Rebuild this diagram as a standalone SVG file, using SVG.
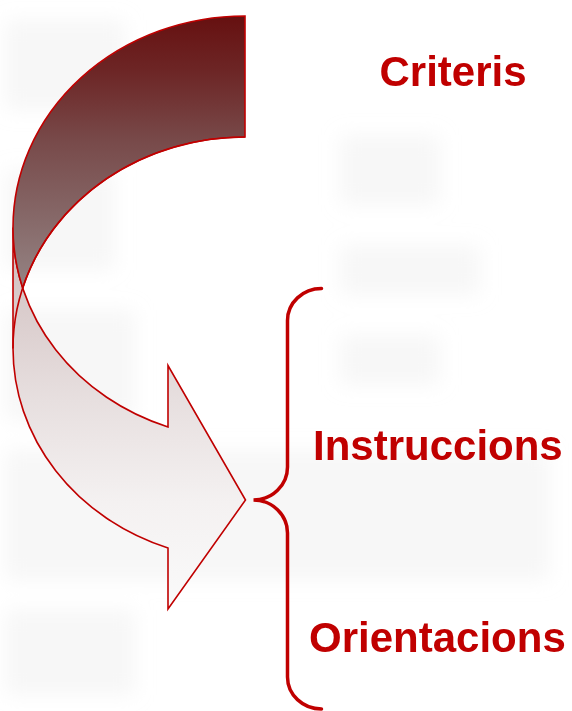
<svg xmlns="http://www.w3.org/2000/svg" width="572" height="711" viewBox="0 0 572 711">
<defs>
<linearGradient id="gDark" gradientUnits="userSpaceOnUse" x1="0" y1="16" x2="0" y2="295">
<stop offset="0" stop-color="#661010"/>
<stop offset="0.2" stop-color="#6d2626"/>
<stop offset="0.45" stop-color="#784a4a"/>
<stop offset="0.72" stop-color="#866868"/>
<stop offset="1" stop-color="#968686"/>
</linearGradient>
<linearGradient id="gLight" gradientUnits="userSpaceOnUse" x1="0" y1="227" x2="0" y2="610">
<stop offset="0" stop-color="#cdbaba"/>
<stop offset="0.2" stop-color="#d9cbcb"/>
<stop offset="0.45" stop-color="#e7dfdf"/>
<stop offset="0.72" stop-color="#f4f1f1"/>
<stop offset="1" stop-color="#fafafa"/>
</linearGradient>
<filter id="blur" x="-20%" y="-20%" width="140%" height="140%">
<feGaussianBlur stdDeviation="10"/>
</filter>
<style>
.ol{stroke:#c00000;stroke-width:1.6;stroke-linejoin:miter}
.line{fill:none}
.light{fill:url(#gLight)}
.dark{fill:url(#gDark)}
.brace{fill:none;stroke:#c00000;stroke-width:3.5;stroke-linecap:round}
.lbl{font-family:"Liberation Sans",Arial,sans-serif;font-weight:bold;font-size:42px;fill:#c00000}
.bg{fill:#e6e6e6;opacity:0.3}
</style>
</defs>
<rect width="572" height="711" fill="#ffffff"/>
<g id="background" filter="url(#blur)">
<rect class="bg" x="5" y="20" width="120" height="90"/>
<rect class="bg" x="5" y="170" width="110" height="100"/>
<rect class="bg" x="5" y="310" width="130" height="110"/>
<rect class="bg" x="5" y="450" width="545" height="130"/>
<rect class="bg" x="5" y="610" width="130" height="85"/>
<rect class="bg" x="340" y="135" width="100" height="70"/>
<rect class="bg" x="340" y="245" width="140" height="50"/>
<rect class="bg" x="340" y="335" width="100" height="50"/>
</g>
<g id="curved-arrow">
<path class="ol light" d="M13,227.5 A232,211.5 0 0 0 168,427 L168,365.5 L245.5,500 L168,609 L168,548 A232,211.5 0 0 1 13,348.5 Z"/>
<path class="ol dark" d="M245,16 A232,211.5 0 0 0 13,227.5 A232,211.5 0 0 0 22.7,288 A232,211.5 0 0 1 245,137 Z"/>
<path class="ol line" d="M245,137 A232,211.5 0 0 0 13,348.5"/>
</g>
<g id="connectors">
<path class="brace" d="M321.5,288.5 A34,32 0 0 0 287.5,320.5 L287.5,467 A34,33 0 0 1 253.5,500 A34,33 0 0 1 287.5,533 L287.5,677 A34,32 0 0 0 321.5,709"/>
</g>
<g id="node-criteris"><text class="lbl" x="379.5" y="86">Criteris</text></g>
<g id="node-instruccions"><text class="lbl" x="313" y="460">Instruccions</text></g>
<g id="node-orientacions"><text class="lbl" x="309" y="652">Orientacions</text></g>
</svg>
